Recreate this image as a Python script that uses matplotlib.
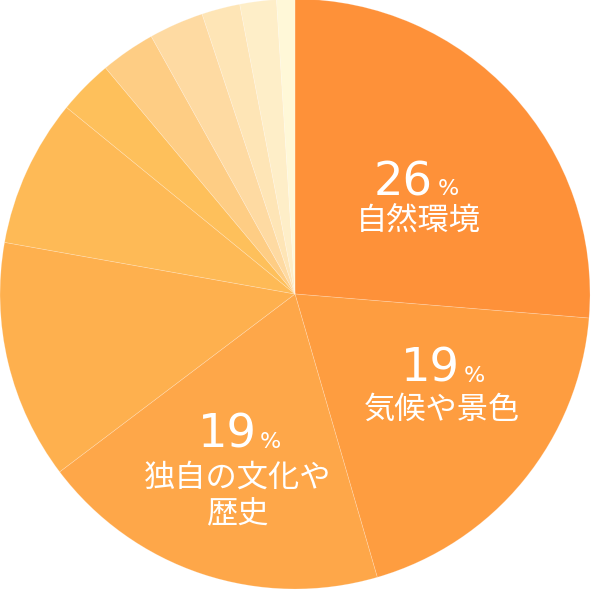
import matplotlib
matplotlib.use("Agg")
import matplotlib.pyplot as plt

# data (percent shares, clockwise from 12 o'clock)
categories = ["自然環境", "気候や景色", "独自の文化や\n歴史", "", "", "", "", "", "", "", ""]
values = [26.3, 19.2, 19.2, 13.1, 8.1, 3.0, 3.0, 3.0, 2.1, 2.0, 1.0]
pct_labels = ["26", "19", "19"]
colors = ["#FE9139", "#FE9D40", "#FEA749", "#FEB04E", "#FEBA56", "#FEC05B",
          "#FECD84", "#FEDAA2", "#FEE5B6", "#FEEEC8", "#FFF8D8"]

W = 592
fig = plt.figure(figsize=(W / 100, W / 100), dpi=100)
ax = fig.add_axes([0, 0, 1, 1])
ax.set_aspect("equal")
ax.axis("off")

ax.pie(values, colors=colors, startangle=90, counterclock=False,
       radius=295, center=(295, -294),
       wedgeprops=dict(edgecolor=(1, 1, 1, 0.25), linewidth=0.5))
ax.set_xlim(0, W)
ax.set_ylim(-W, 0)

num_font = dict(family="DejaVu Sans", color="white")
jp_font = dict(family=["Noto Sans CJK JP", "DejaVu Sans"], color="white")

# label layout: (number center x, baseline y, % left x, text center x, text center y)
layout = [
    (403, 195, 438, 418, 222),
    (430, 382, 464, 442, 410),
    (227, 448, 260, 238, 496),
]
for (nx, ny, px, tx, ty), num, cat in zip(layout, pct_labels, categories):
    ax.text(nx, -ny, num, ha="center", va="baseline", fontsize=33.5, **num_font)
    ax.text(px, -ny, "%", ha="left", va="baseline", fontsize=16, **num_font)
    ax.text(tx, -ty, cat, ha="center", va="center", fontsize=22.5,
            linespacing=1.2, **jp_font)

fig.savefig("out.png", dpi=100)
